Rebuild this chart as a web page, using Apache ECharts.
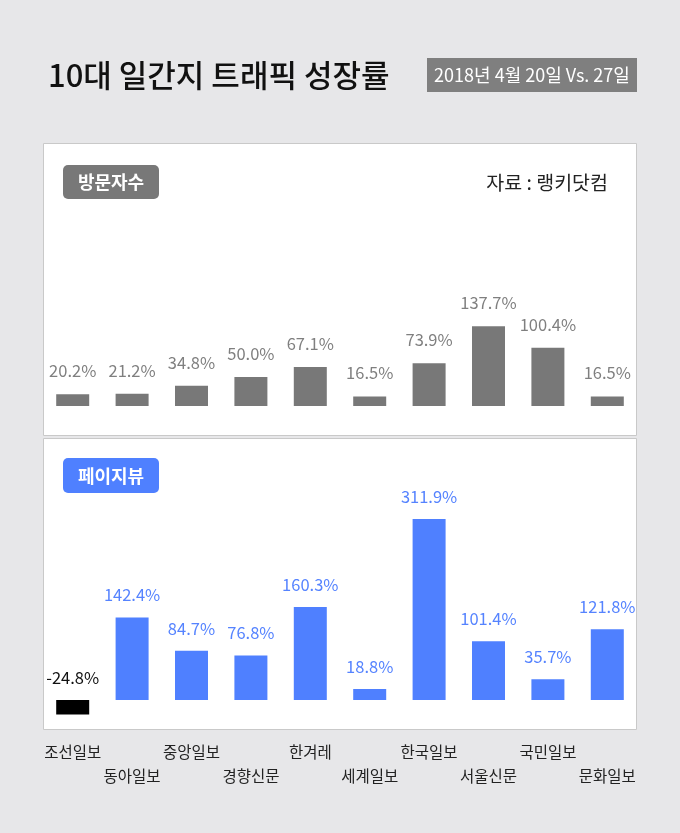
<!DOCTYPE html>
<html>
<head>
<meta charset="utf-8">
<script src="https://cdn.jsdelivr.net/npm/echarts@6/dist/echarts.min.js"></script>
<style>
html, body { margin: 0; padding: 0; background: #e7e7e9; }
#main { width: 680px; height: 833px; }
</style>
</head>
<body>
<div id="main"></div>
<script>
// 신문사 (x축)
var papers = ['조선일보', '동아일보', '중앙일보', '경향신문', '한겨레', '세계일보', '한국일보', '서울신문', '국민일보', '문화일보'];
// 방문자수 성장률 (%)
var visitors = [20.2, 21.2, 34.8, 50.0, 67.1, 16.5, 73.9, 137.7, 100.4, 16.5];
// 페이지뷰 성장률 (%)
var pageviews = [-24.8, 142.4, 84.7, 76.8, 160.3, 18.8, 311.9, 101.4, 35.7, 121.8];

var FONT = "'Noto Sans CJK KR', 'Noto Sans', sans-serif";
var GRAY = '#787878';
var BLUE = '#4f80ff';

var myChart = echarts.init(document.getElementById('main'));

var pvData = pageviews.map(function (v) {
    if (v < 0) {
        return { value: v, itemStyle: { color: '#000' }, label: { color: '#111' } };
    }
    return v;
});

function pct(p) {
    return p.value.toFixed(1) + '%';
}

var option = {
    backgroundColor: '#e7e7e9',
    animation: false,
    textStyle: { fontFamily: FONT },
    graphic: [
        { type: 'text', x: 48, y: 75, z: 10,
          style: { text: '10대 일간지 트래픽 성장률', fontSize: 31, fontWeight: 500, fill: '#111', verticalAlign: 'middle', fontFamily: FONT } },
        { type: 'rect', shape: { x: 427, y: 58, width: 210, height: 34 }, style: { fill: '#7f7f7f' }, z: 10 },
        { type: 'text', x: 532, y: 75, z: 11,
          style: { text: '2018년 4월 20일 Vs. 27일', fontSize: 18, fill: '#fff', align: 'center', verticalAlign: 'middle', fontFamily: FONT } },

        // 패널
        { type: 'rect', shape: { x: 43.5, y: 143.5, width: 593, height: 292 }, style: { fill: '#fff', stroke: '#c9c9c9', lineWidth: 1 }, z: 0 },
        { type: 'rect', shape: { x: 43.5, y: 438.5, width: 593, height: 291 }, style: { fill: '#fff', stroke: '#c9c9c9', lineWidth: 1 }, z: 0 },

        // 배지
        { type: 'rect', shape: { x: 63, y: 165, width: 96, height: 34, r: 5 }, style: { fill: GRAY }, z: 10 },
        { type: 'text', x: 111, y: 182, z: 11,
          style: { text: '방문자수', fontSize: 18, fontWeight: 'bold', fill: '#fff', align: 'center', verticalAlign: 'middle', fontFamily: FONT } },
        { type: 'rect', shape: { x: 63, y: 458, width: 96, height: 35, r: 5 }, style: { fill: BLUE }, z: 10 },
        { type: 'text', x: 111, y: 476, z: 11,
          style: { text: '페이지뷰', fontSize: 18, fontWeight: 'bold', fill: '#fff', align: 'center', verticalAlign: 'middle', fontFamily: FONT } },

        { type: 'text', x: 608, y: 183, z: 11,
          style: { text: '자료 : 랭키닷컴', fontSize: 19.5, fill: '#222', align: 'right', verticalAlign: 'middle', fontFamily: FONT } }
    ],
    grid: [
        { left: 43, width: 594, top: 290, height: 116 },
        { left: 43, width: 594, top: 497, height: 232 }
    ],
    xAxis: [
        { type: 'category', gridIndex: 0, data: papers,
          axisLine: { show: false }, axisTick: { show: false }, axisLabel: { show: false } },
        { type: 'category', gridIndex: 1, data: papers,
          axisLine: { show: false, onZero: false }, axisTick: { show: false },
          axisLabel: {
              interval: 0, margin: 11, fontSize: 15.5, color: '#222', lineHeight: 24,
              formatter: function (v, i) { return i % 2 ? '\n' + v : v; }
          } }
    ],
    yAxis: [
        { type: 'value', gridIndex: 0, min: 0, max: 200, show: false },
        { type: 'value', gridIndex: 1, min: -50, max: 350, show: false }
    ],
    series: [
        {
            name: '방문자수', type: 'bar', xAxisIndex: 0, yAxisIndex: 0,
            data: visitors, barWidth: 33, z: 5,
            itemStyle: { color: GRAY },
            label: { show: true, position: 'top', distance: 15, fontSize: 16.5, color: '#7f7f7f', formatter: pct }
        },
        {
            name: '페이지뷰', type: 'bar', xAxisIndex: 1, yAxisIndex: 1,
            data: pvData, barWidth: 33, z: 5,
            itemStyle: { color: BLUE },
            label: { show: true, position: 'top', distance: 14, fontSize: 16.5, color: '#5583ff', formatter: pct }
        }
    ]
};

myChart.setOption(option);
</script>
</body>
</html>
